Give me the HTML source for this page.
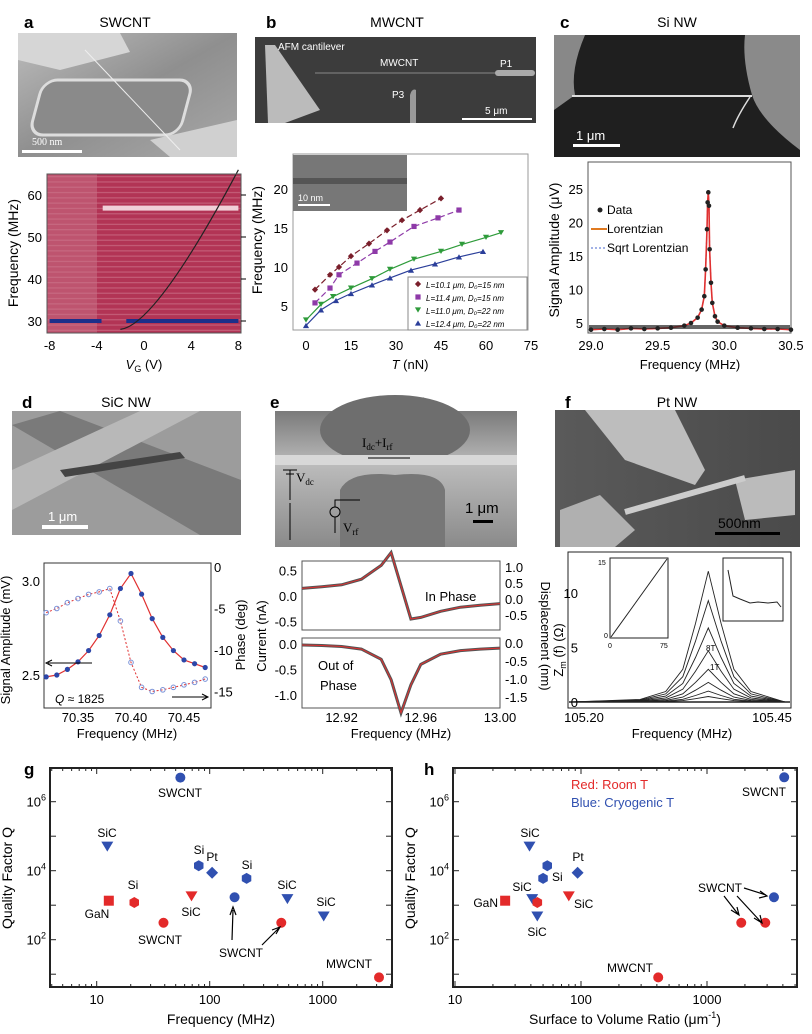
<!DOCTYPE html>
<html><head><meta charset="utf-8"><style>
body{margin:0;background:#fff}
svg{display:block;font-family:"Liberation Sans",Arial,sans-serif}
</style></head><body>
<svg id="fig" width="812" height="1034" viewBox="0 0 812 1034" xmlns="http://www.w3.org/2000/svg">
<defs>
<linearGradient id="gA" x1="0" y1="0" x2="1" y2="1"><stop offset="0" stop-color="#bdbdbd"/><stop offset="0.5" stop-color="#8f8f8f"/><stop offset="1" stop-color="#a8a8a8"/></linearGradient>
<linearGradient id="gE" x1="0" y1="0" x2="0" y2="1"><stop offset="0" stop-color="#7a7a7a"/><stop offset="0.4" stop-color="#bbb"/><stop offset="1" stop-color="#8a8a8a"/></linearGradient>
<linearGradient id="gF" x1="0" y1="0" x2="1" y2="0"><stop offset="0" stop-color="#5a5a5a"/><stop offset="1" stop-color="#4a4a4a"/></linearGradient>
</defs>
<g font-size="14">
<text x="24" y="28" font-weight="bold" font-size="17">a</text>
<text x="125" y="27" text-anchor="middle">SWCNT</text>
<text x="266" y="28" font-weight="bold" font-size="17">b</text>
<text x="397" y="27" text-anchor="middle">MWCNT</text>
<text x="560" y="28" font-weight="bold" font-size="17">c</text>
<text x="677" y="27" text-anchor="middle">Si NW</text>
<text x="22" y="408" font-weight="bold" font-size="17">d</text>
<text x="126" y="407" text-anchor="middle">SiC NW</text>
<text x="270" y="408" font-weight="bold" font-size="17">e</text>
<text x="396" y="407" text-anchor="middle">GaN NW</text>
<text x="565" y="408" font-weight="bold" font-size="17">f</text>
<text x="677" y="407" text-anchor="middle">Pt NW</text>
<text x="24" y="775" font-weight="bold" font-size="17">g</text>
<text x="424" y="775" font-weight="bold" font-size="17">h</text>
</g>
<g>
<rect x="18" y="33" width="219" height="124" fill="url(#gA)"/>
<polygon points="18,33 120,33 130,52 60,70 18,60" fill="#d6d6d6"/>
<rect x="45" y="80" width="150" height="55" rx="14" fill="#8a8a8a" stroke="#ddd" stroke-width="3" transform="skewX(-15) translate(20,0)"/>
<polygon points="150,140 237,120 237,157 170,157" fill="#d0d0d0"/>
<line x1="85" y1="50" x2="180" y2="150" stroke="#eee" stroke-width="1"/>
<rect x="22" y="150" width="60" height="3" fill="#fff"/>
<text x="32" y="145" font-size="10" fill="#fff" font-family="Liberation Serif">500 nm</text>
</g>
<g>
<rect x="255" y="37" width="281" height="86" fill="#3c3c3c"/>
<polygon points="265,45 275,45 320,110 285,123 268,123" fill="#bbb"/>
<line x1="315" y1="73" x2="528" y2="73" stroke="#888" stroke-width="1"/>
<rect x="495" y="70" width="40" height="6" rx="3" fill="#aaa"/>
<path d="M410,123 L410,95 Q412,88 416,90 L416,123" fill="#999"/>
<text x="278" y="50" font-size="10" fill="#fff">AFM cantilever</text>
<text x="380" y="66" font-size="10" fill="#fff">MWCNT</text>
<text x="500" y="67" font-size="10" fill="#fff">P1</text>
<text x="392" y="98" font-size="10" fill="#fff">P3</text>
<text x="485" y="114" font-size="10" fill="#fff">5 μm</text>
<rect x="462" y="118" width="70" height="2" fill="#fff"/>
</g>
<g>
<rect x="554" y="35" width="246" height="122" fill="#1f1f1f"/>
<path d="M554,35 L585,35 Q570,70 575,95 L554,110 Z" fill="#888"/>
<path d="M745,35 L800,35 L800,150 Q760,120 752,95 Q742,60 745,35Z" fill="#8a8a8a"/>
<line x1="572" y1="96" x2="752" y2="96" stroke="#ddd" stroke-width="2"/>
<path d="M750,97 Q738,115 733,128" stroke="#ddd" stroke-width="1.5" fill="none"/>
<rect x="573" y="144" width="47" height="3" fill="#fff"/>
<text x="576" y="140" font-size="13" fill="#fff">1 μm</text>
</g>
<g>
<rect x="12" y="411" width="229" height="124" fill="#9c9c9c"/>
<polygon points="12,425 60,411 241,480 241,535 200,535" fill="#7a7a7a"/>
<polygon points="12,470 140,411 200,411 12,510" fill="#b8b8b8"/>
<polygon points="60,470 180,452 185,458 65,477" fill="#444"/>
<rect x="42" y="525" width="46" height="4" fill="#fff"/>
<text x="48" y="521" font-size="13" fill="#fff">1 μm</text>
</g>
<g>
<rect x="275" y="411" width="242" height="136" fill="url(#gE)"/>
<ellipse cx="395" cy="430" rx="75" ry="35" fill="#6e6e6e"/>
<path d="M340,547 L340,490 Q350,470 395,475 Q440,470 445,490 L445,547Z" fill="#777"/>
<rect x="275" y="455" width="242" height="10" fill="#d8d8d8"/>
<text x="362" y="447" font-size="13" font-family="Liberation Serif">I<tspan font-size="9" dy="3">dc</tspan><tspan dy="-3">+I</tspan><tspan font-size="9" dy="3">rf</tspan></text>
<line x1="368" y1="458" x2="410" y2="458" stroke="#000"/>
<text x="296" y="482" font-size="13" font-family="Liberation Serif">V<tspan font-size="9" dy="3">dc</tspan></text>
<text x="343" y="532" font-size="13" font-family="Liberation Serif">V<tspan font-size="9" dy="3">rf</tspan></text>
<path d="M290,503 L290,540 M283,470 L297,470 M286,474 L294,474 M290,474 L290,470 M290,470 L290,500" stroke="#000" fill="none"/>
<circle cx="335" cy="512" r="5" fill="none" stroke="#000"/>
<path d="M335,507 L335,500 L360,500 M335,517 L335,533" stroke="#000" fill="none"/>
<text x="465" y="513" font-size="15">1 μm</text>
<rect x="473" y="520" width="20" height="3" fill="#000"/>
</g>
<g>
<rect x="555" y="410" width="245" height="137" fill="url(#gF)"/>
<polygon points="585,410 675,410 705,470 695,485 625,460" fill="#bdbdbd"/>
<polygon points="560,510 600,495 635,530 615,547 560,547" fill="#b0b0b0"/>
<polygon points="735,480 795,470 795,515 745,520" fill="#bbb"/>
<line x1="625" y1="512" x2="745" y2="478" stroke="#ccc" stroke-width="6"/>
<rect x="715" y="532" width="65" height="3" fill="#000"/>
<text x="718" y="528" font-size="14">500nm</text>
</g>
</svg>
<script>
const NS='http://www.w3.org/2000/svg';
const fig=document.getElementById('fig');
function mk(tag,attrs,parent){const e=document.createElementNS(NS,tag);for(const k in attrs)e.setAttribute(k,attrs[k]);(parent||fig).appendChild(e);return e;}
function txt(s,x,y,o,parent){const e=mk('text',Object.assign({x:x,y:y,'font-size':11},o||{}),parent);e.textContent=s;return e;}
function poly(pts){return pts.map(p=>p[0].toFixed(1)+','+p[1].toFixed(1)).join(' ');}
function marker(shape,cx,cy,r,fill,parent){
  let e;
  if(shape==='circle')e=mk('circle',{cx:cx,cy:cy,r:r,fill:fill},parent);
  else if(shape==='square')e=mk('rect',{x:cx-r,y:cy-r,width:2*r,height:2*r,fill:fill},parent);
  else if(shape==='down')e=mk('polygon',{points:poly([[cx-r*1.2,cy-r],[cx+r*1.2,cy-r],[cx,cy+r]]),fill:fill},parent);
  else if(shape==='up')e=mk('polygon',{points:poly([[cx-r*1.2,cy+r],[cx+r*1.2,cy+r],[cx,cy-r]]),fill:fill},parent);
  else if(shape==='diamond')e=mk('polygon',{points:poly([[cx,cy-r*1.2],[cx+r*1.2,cy],[cx,cy+r*1.2],[cx-r*1.2,cy]]),fill:fill},parent);
  else {const p=[];for(let i=0;i<6;i++){const a=Math.PI/3*i+Math.PI/6;p.push([cx+r*1.1*Math.cos(a),cy+r*1.1*Math.sin(a)]);}e=mk('polygon',{points:poly(p),fill:fill},parent);}
  return e;
}
</script>
<script>
// ===== Panel a heatmap =====
const aBandFreq=[30,57];
(function(){
const g=mk('g',{});


const xa=v=>144+v*11.8, ya=f=>321-(f-30)*4.2;
mk('rect',{x:47,y:174,width:194,height:159,fill:'#b23455'},g);
for(let i=0;i<30;i++){mk('rect',{x:47,y:176+i*5.3,width:194,height:1.3,fill:'#d48a9e',opacity:0.45},g);}
mk('rect',{x:47,y:174,width:50,height:159,fill:'#c9748a',opacity:0.5},g);
mk('rect',{x:xa(-3.5),y:ya(aBandFreq[1])-2,width:xa(8)-xa(-3.5),height:5,fill:'#f0d0d8'},g);
const band=mk('path',{d:`M${xa(-8)},${ya(aBandFreq[0])} L${xa(-3.6)},${ya(aBandFreq[0])} M${xa(-1.5)},${ya(aBandFreq[0])} L${xa(8)},${ya(aBandFreq[0])}`,stroke:'#1c2f8a','stroke-width':4},g);

mk('path',{d:`M${xa(-2)},${ya(28)} Q${xa(1)},${ya(29)} ${xa(8)},${ya(66)}`,stroke:'#222',fill:'none','stroke-width':1.2},g);
mk('rect',{x:47,y:174,width:194,height:159,fill:'none',stroke:'#555'},g);
[30,40,50,60].forEach(f=>{txt(String(f),42,ya(f)+5,{'text-anchor':'end','font-size':13},g);mk('line',{x1:241,x2:246,y1:ya(f),y2:ya(f),stroke:'#000'},g);});
[-8,-4,0,4,8].forEach(v=>txt(String(v),xa(v),350,{'text-anchor':'middle','font-size':13},g));
const xl=txt('',144,369,{'text-anchor':'middle','font-size':13},g);xl.innerHTML='<tspan font-style="italic">V</tspan><tspan font-size="9" dy="3">G</tspan><tspan dy="-3"> (V)</tspan>';
txt('Frequency (MHz)',18,253,{'text-anchor':'middle','font-size':14,transform:'rotate(-90 18 253)'},g);
})();

// ===== Panel b =====
const bT1=[3,8,11,15,21,27,32,38,45], bF1=[7.1,9,10,11.4,13,14.7,16,17.3,18.8];
const bT2=[3,8,11,17,23,28,36,44,51], bF2=[5.4,7.3,9,10.5,12,13.2,15.2,16.3,17.3];
const bT3=[0,5,9,15,22,28,36,45,52,60,65], bF3=[3.2,5.2,6.2,7.3,8.5,9.7,11,12,12.9,13.8,14.4];
const bT4=[0,5,10,15,22,28,35,43,51,59], bF4=[2.5,4.5,5.7,6.6,7.7,8.6,9.6,10.4,11.3,12];
(function(){
const g=mk('g',{});


const xb=t=>306+t*3.0, yb=f=>345-f*7.8;
mk('rect',{x:293,y:154,width:235,height:176,fill:'#fff',stroke:'#999'},g);
mk('rect',{x:293,y:155,width:114,height:56,fill:'#777'},g);
mk('rect',{x:293,y:178,width:114,height:6,fill:'#555'},g);
txt('10 nm',298,201,{'font-size':9,fill:'#fff'},g);
mk('rect',{x:298,y:204,width:32,height:2,fill:'#fff'},g);
const ser=[[bT1,bF1,'#7a1f2b','diamond','6 3'],[bT2,bF2,'#8e3aa8','square','6 3'],[bT3,bF3,'#2e9b3a','down',''],[bT4,bF4,'#2b3f9a','up','']];
ser.forEach((s,k)=>{
  const pts=s[0].map((t,i)=>[xb(t),yb(s[1][i])]);
  const ln=mk('polyline',{points:poly(pts),fill:'none',stroke:s[2],'stroke-width':1.2,'stroke-dasharray':s[4]},g);
  
  pts.forEach(p=>{const m=marker(s[3],p[0],p[1],2.6,s[2],g);
    });
});
[0,15,30,45,60,75].forEach(t=>txt(String(t),xb(t),350,{'text-anchor':'middle','font-size':13},g));
[5,10,15,20].forEach(f=>txt(String(f),288,yb(f)+5,{'text-anchor':'end','font-size':13},g));
const xl=txt('',410,369,{'text-anchor':'middle','font-size':13},g);xl.innerHTML='<tspan font-style="italic">T</tspan> (nN)';
txt('Frequency (MHz)',262,240,{'text-anchor':'middle','font-size':14,transform:'rotate(-90 262 240)'},g);
const lg=mk('g',{},g);


mk('rect',{x:408,y:277,width:119,height:53,fill:'#fff',stroke:'#888'},lg);
const lab=['L=10.1 μm, D₀=15 nm','L=11.4 μm, D₀=15 nm','L=11.0 μm, D₀=22 nm','L=12.4 μm, D₀=22 nm'];
ser.forEach((s,i)=>{marker(s[3],418,284+i*13,2.6,s[2],lg);txt(lab[i],426,288+i*13,{'font-size':8,'font-style':'italic'},lg);});
})();

// ===== Panel c =====
const cDataF=[29.0,29.1,29.2,29.3,29.4,29.5,29.6,29.7,29.75,29.8,29.83,29.85,29.86,29.87,29.875,29.88,29.885,29.89,29.9,29.91,29.93,29.95,30.0,30.1,30.2,30.3,30.4,30.5];
const cDataA=[4.0,4.1,4.0,4.2,4.1,4.2,4.3,4.6,5.0,5.8,7.0,9.0,13.0,19.0,23.0,24.5,22.5,16.0,11.0,8.0,6.0,5.2,4.6,4.3,4.2,4.1,4.1,4.0];
(function(){
const g=mk('g',{});


const xc=f=>591+(f-29)*133.3, yc=a=>323-(a-5)*6.7;
mk('rect',{x:588,y:162,width:203,height:171,fill:'#fff',stroke:'#555'},g);
const dp=cDataF.map((f,i)=>[xc(f),yc(cDataA[i])]);
const sq=mk('polyline',{points:poly(dp),fill:'none',stroke:'#4466cc','stroke-width':1.2,'stroke-dasharray':'2 2'},g);

const lz=mk('polyline',{points:poly(dp),fill:'none',stroke:'#e03030','stroke-width':1.6},g);

dp.forEach(p=>{const m=mk('circle',{cx:p[0],cy:p[1],r:2.3,fill:'#222'},g);
});
mk('rect',{x:589,y:yc(4.4)-2,width:201,height:4,fill:'#222',opacity:0.7},g);
[29.0,29.5,30.0,30.5].forEach(f=>txt(f.toFixed(1),xc(f),350,{'text-anchor':'middle','font-size':13},g));
[5,10,15,20,25].forEach(a=>txt(String(a),583,yc(a)+5,{'text-anchor':'end','font-size':13},g));
txt('Frequency (MHz)',690,369,{'text-anchor':'middle','font-size':13},g);
txt('Signal Amplitude (μV)',559,250,{'text-anchor':'middle','font-size':14,transform:'rotate(-90 559 250)'},g);
const lg=mk('g',{},g);


mk('circle',{cx:600,cy:210,r:2.5,fill:'#222'},lg);txt('Data',607,214,{'font-size':12},lg);
mk('line',{x1:591,x2:607,y1:229,y2:229,stroke:'#e07a20','stroke-width':2},lg);txt('Lorentzian',607,233,{'font-size':12},lg);
mk('line',{x1:591,x2:607,y1:248,y2:248,stroke:'#4466cc','stroke-dasharray':'2 2'},lg);txt('Sqrt Lorentzian',607,252,{'font-size':12},lg);
})();

// ===== Panel d =====
const dAmpF=[70.32,70.33,70.34,70.35,70.36,70.37,70.38,70.39,70.40,70.41,70.42,70.43,70.44,70.45,70.46,70.47];
const dAmp=[2.49,2.50,2.53,2.57,2.63,2.71,2.82,2.96,3.04,2.93,2.80,2.70,2.63,2.58,2.56,2.54];
const dPh=[-5.5,-5.0,-4.3,-3.8,-3.3,-3.0,-2.6,-6.5,-11.5,-14.5,-15.0,-14.8,-14.5,-14.2,-13.9,-13.5];
(function(){
const g=mk('g',{});


const xd=f=>78+(f-70.35)*1060, ya=a=>675-(a-2.5)*188, yp=p=>567-p*8.3;
mk('rect',{x:44,y:563,width:167,height:145,fill:'#fff',stroke:'#333'},g);
const ph=dAmpF.map((f,i)=>[xd(f),yp(dPh[i])]);
mk('polyline',{points:poly(ph),fill:'none',stroke:'#e03030','stroke-dasharray':'2 2'},g);
ph.forEach(p=>{const m=mk('circle',{cx:p[0],cy:p[1],r:2.3,fill:'none',stroke:'#7a92d8'},g);
});
const am=dAmpF.map((f,i)=>[xd(f),ya(dAmp[i])]);
mk('polyline',{points:poly(am),fill:'none',stroke:'#e03030','stroke-width':1.2},g);
am.forEach(p=>{const m=mk('circle',{cx:p[0],cy:p[1],r:2.6,fill:'#2c46a8'},g);
});
mk('path',{d:'M92,663 L48,663 M52,660 L46,663 L52,666',stroke:'#000',fill:'none'},g);
mk('path',{d:'M172,697 L207,697 M202,694 L208,697 L202,700',stroke:'#000',fill:'none'},g);
const q=txt('',55,703,{'font-size':12},g);q.innerHTML='<tspan font-style="italic">Q</tspan> ≈ 1825';
[3.0,2.5].forEach(a=>txt(a.toFixed(1),40,ya(a)+5,{'text-anchor':'end','font-size':13},g));
[0,-5,-10,-15].forEach(p=>txt(String(p),214,yp(p)+5,{'font-size':13},g));
[70.35,70.40,70.45].forEach(f=>txt(f.toFixed(2),xd(f),722,{'text-anchor':'middle','font-size':13},g));
txt('Frequency (MHz)',127,738,{'text-anchor':'middle','font-size':13},g);
txt('Signal Amplitude (mV)',10,640,{'text-anchor':'middle','font-size':13,transform:'rotate(-90 10 640)'},g);
txt('Phase (deg)',245,635,{'text-anchor':'middle','font-size':13,transform:'rotate(-90 245 635)'},g);
})();

// ===== Panel e =====
const eF=[12.90,12.91,12.92,12.93,12.94,12.945,12.95,12.955,12.96,12.97,12.98,12.99,13.00];
const eIn=[0.15,0.18,0.22,0.33,0.6,0.85,0.2,-0.45,-0.42,-0.3,-0.22,-0.18,-0.15];
const eOut=[-0.02,-0.03,-0.05,-0.1,-0.3,-0.7,-1.35,-0.8,-0.4,-0.2,-0.13,-0.1,-0.08];
(function(){
const g=mk('g',{});


const xe=f=>302+(f-12.90)*1980, yi=v=>596-v*51, yo=v=>644-v*51;
mk('rect',{x:302,y:561,width:198,height:69,fill:'#fff',stroke:'#555'},g);
mk('rect',{x:302,y:638,width:198,height:70,fill:'#fff',stroke:'#555'},g);
const p1=eF.map((f,i)=>[xe(f),yi(eIn[i])]);const p2=eF.map((f,i)=>[xe(f),yo(eOut[i])]);
const l1=mk('polyline',{points:poly(p1),fill:'none',stroke:'#555','stroke-width':3},g);

mk('polyline',{points:poly(p1),fill:'none',stroke:'#e03030','stroke-width':1},g);
const l2=mk('polyline',{points:poly(p2),fill:'none',stroke:'#555','stroke-width':3},g);

mk('polyline',{points:poly(p2),fill:'none',stroke:'#e03030','stroke-width':1},g);
txt('In Phase',425,601,{'font-size':13},g);
txt('Out of',318,670,{'font-size':13},g);txt('Phase',320,690,{'font-size':13},g);
[['0.5',0.5],['0.0',0],['-0.5',-0.5]].forEach(t=>txt(t[0],297,yi(t[1])+5,{'text-anchor':'end','font-size':13},g));
[['0.0',0],['-0.5',-0.5],['-1.0',-1]].forEach(t=>txt(t[0],297,yo(t[1])+5,{'text-anchor':'end','font-size':13},g));
['1.0','0.5','0.0','-0.5'].forEach((t,i)=>txt(t,505,572+i*16,{'font-size':13},g));
['0.0','-0.5','-1.0','-1.5'].forEach((t,i)=>txt(t,505,648+i*18,{'font-size':13},g));
[12.92,12.96,13.00].forEach(f=>txt(f.toFixed(2),xe(f),722,{'text-anchor':'middle','font-size':13},g));
txt('Frequency (MHz)',401,738,{'text-anchor':'middle','font-size':13},g);
txt('Current (nA)',266,636,{'text-anchor':'middle','font-size':13,transform:'rotate(-90 266 636)'},g);
txt('Displacement (nm)',541,636,{'text-anchor':'middle','font-size':13,transform:'rotate(90 541 636)'},g);
})();

// ===== Panel f =====
const fPeaks=[12,9.3,6.8,4.7,3.0,1.8,1.0,0.5];
const fShape=[[105.20,0],[105.28,0.02],[105.31,0.08],[105.33,0.25],[105.345,0.6],[105.36,1],[105.375,0.6],[105.39,0.25],[105.41,0.08],[105.44,0.02],[105.45,0]];
(function(){
const g=mk('g',{});


const xf=f=>572+(f-105.2)*852, yf=z=>702-z*10.9;
mk('rect',{x:568,y:552,width:223,height:156,fill:'#fff',stroke:'#222'},g);
fPeaks.forEach((h,k)=>{const pts=fShape.map(s=>[xf(s[0]),yf(s[1]*h)]);
 const l=mk('polyline',{points:poly(pts),fill:'none',stroke:'#222','stroke-width':0.9},g);
 });
mk('line',{x1:569,x2:790,y1:yf(0),y2:yf(0),stroke:'#222','stroke-width':1.5},g);
mk('rect',{x:610,y:558,width:58,height:80,fill:'#fff',stroke:'#222'},g);
mk('line',{x1:611,y1:637,x2:667,y2:559,stroke:'#222'},g);
txt('15',598,565,{'font-size':7},g);txt('0',604,638,{'font-size':7},g);txt('0',608,648,{'font-size':7},g);txt('75',660,648,{'font-size':7},g);
mk('rect',{x:723,y:558,width:60,height:63,fill:'#fff',stroke:'#222'},g);
mk('polyline',{points:'728,570 733,596 740,599 750,603 758,602 768,603 777,602 781,607',fill:'none',stroke:'#222'},g);
txt('8T',706,651,{'font-size':8},g);txt('1T',710,670,{'font-size':8},g);
txt('0',578,yf(0)+5,{'font-size':13,'text-anchor':'end'},g);txt('5',578,yf(5)+5,{'font-size':13,'text-anchor':'end'},g);txt('10',578,yf(10)+5,{'font-size':13,'text-anchor':'end'},g);
txt('105.20',584,722,{'text-anchor':'middle','font-size':13},g);txt('105.45',772,722,{'text-anchor':'middle','font-size':13},g);
txt('Frequency (MHz)',682,738,{'text-anchor':'middle','font-size':13},g);
const yl=txt('',563,650,{'text-anchor':'middle','font-size':13,transform:'rotate(-90 563 650)'},g);yl.innerHTML='Z<tspan font-size="9" dy="3">m</tspan><tspan dy="-3"> (f) (Ω)</tspan>';
})();

// ===== Panels g & h =====
const gNames=['SWCNT','SiC','Si','Pt','Si','SWCNT','SiC','SiC','GaN','Si','SiC','SWCNT','SWCNT','MWCNT'];
const gFreq=[55,12.4,80,105,212,166,487,1020,12.8,21.5,69,39,430,3150];
const gQ=[5e6,5e4,1.4e4,8.7e3,6e3,1.7e3,1.5e3,4.7e2,1.35e3,1.2e3,1.8e3,3.1e2,3.1e2,8.1];
const gColor=['blue','blue','blue','blue','blue','blue','blue','blue','red','red','red','red','red','red'];
const gShape=['circle','down','hex','diamond','hex','circle','down','down','square','hex','down','circle','circle','circle'];
const hRatio=[4100,39,54,94,50,41,45,3400,25,45,80,1870,2900,410];
const hQ=[5.1e6,5e4,1.4e4,8.7e3,6e3,1.5e3,4.7e2,1.7e3,1.35e3,1.2e3,1.8e3,3.1e2,3.1e2,8.1];
const hColor=['blue','blue','blue','blue','blue','blue','blue','blue','red','red','red','red','red','red'];
const hShape=['circle','down','hex','diamond','hex','down','down','circle','square','hex','down','circle','circle','circle'];
const qTicks=[2,4,6];
const gXTicks=[10,100,1000];
const hXTicks=[10,100,1000];
const COL={blue:'#3050b0',red:'#e32a2a'};
function qPanel(name,x0,x1,xOrigin,perDec,xs,qs,cols,shapes,xTicks,xlabel){
  const g=mk('g',{});
  
  
  const X=v=>xOrigin+perDec*(Math.log10(v)-1), Y=q=>801.7-34.5*(Math.log10(q)-6);
  mk('rect',{x:x0,y:768,width:x1-x0,height:219,fill:'none',stroke:'#222','stroke-width':2},g);
  for(let d=0;d<5;d++)for(let m=1;m<10;m++){const v=Math.pow(10,d)*m;const xx=X(v);if(xx>x0&&xx<x1){const L=m===1?6:3;
    mk('line',{x1:xx,x2:xx,y1:987,y2:987-L,stroke:'#222'},g);mk('line',{x1:xx,x2:xx,y1:768,y2:768+L,stroke:'#222'},g);}}
  for(let e=1;e<=7;e++){const yy=Y(Math.pow(10,e));if(yy>768&&yy<987){mk('line',{x1:x0,x2:x0+6,y1:yy,y2:yy,stroke:'#222'},g);mk('line',{x1:x1,x2:x1-6,y1:yy,y2:yy,stroke:'#222'},g);}}
  qTicks.forEach(e=>{const t=txt('',x0-4,Y(Math.pow(10,e))+5,{'text-anchor':'end','font-size':13},g);t.innerHTML='10<tspan font-size="9" dy="-6">'+e+'</tspan>';});
  xTicks.forEach(v=>txt(String(v),X(v),1004,{'text-anchor':'middle','font-size':13},g));
  const xl=txt('',(x0+x1)/2,1024,{'text-anchor':'middle','font-size':14},g);xl.innerHTML=xlabel;
  txt('Quality Factor Q',x0-38,878,{'text-anchor':'middle','font-size':14,transform:'rotate(-90 '+(x0-38)+' 878)'},g);
  xs.forEach((v,i)=>{const m=marker(shapes[i],X(v),Y(qs[i]),5,COL[cols[i]],g);
    
    });
  return g;
}
const gg=qPanel('panel-g-q-vs-frequency',50,392,96.7,113,gFreq,gQ,gColor,gShape,gXTicks,'Frequency (MHz)');
[['SWCNT',180,797],['SiC',107,837],['Si',199,854],['Pt',212,861],['Si',247,869],['SiC',287,889],['SiC',326,906],['GaN',97,918],['Si',133,889],['SiC',191,916],['SWCNT',160,944],['SWCNT',241,957],['MWCNT',349,968]].forEach(l=>txt(l[0],l[1],l[2],{'text-anchor':'middle','font-size':12},gg));
mk('path',{d:'M232,940 L233,910 M230,915 L233,907 L236,915 M262,945 L279,928 M272,930 L280,927 L276,934',stroke:'#000',fill:'none','stroke-width':1.2},gg);
const hh=qPanel('panel-h-q-vs-surface-ratio',453,797,455,126,hRatio,hQ,hColor,hShape,hXTicks,'Surface to Volume Ratio (μm<tspan font-size="9" dy="-6">-1</tspan><tspan dy="6">)</tspan>');
txt('Red: Room T',571,789,{'font-size':13,fill:COL.red},hh);
txt('Blue: Cryogenic T',571,807,{'font-size':13,fill:COL.blue},hh);
[['SWCNT',764,796,'middle'],['SiC',530,837,'middle'],['Pt',578,861,'middle'],['Si',552,881,'start'],['SiC',522,891,'middle'],['GaN',498,907,'end'],['SiC',574,908,'start'],['SiC',537,936,'middle'],['SWCNT',742,892,'end'],['MWCNT',630,972,'middle']].forEach(l=>txt(l[0],l[1],l[2],{'text-anchor':l[3],'font-size':12},hh));
mk('path',{d:'M744,888 L766,895 M760,891 L767,896 L759,898 M724,896 L738,914 M731,910 L739,915 L737,907 M737,896 L761,922 M754,918 L762,923 L760,915',stroke:'#000',fill:'none','stroke-width':1.2},hh);
</script>
</body></html>
